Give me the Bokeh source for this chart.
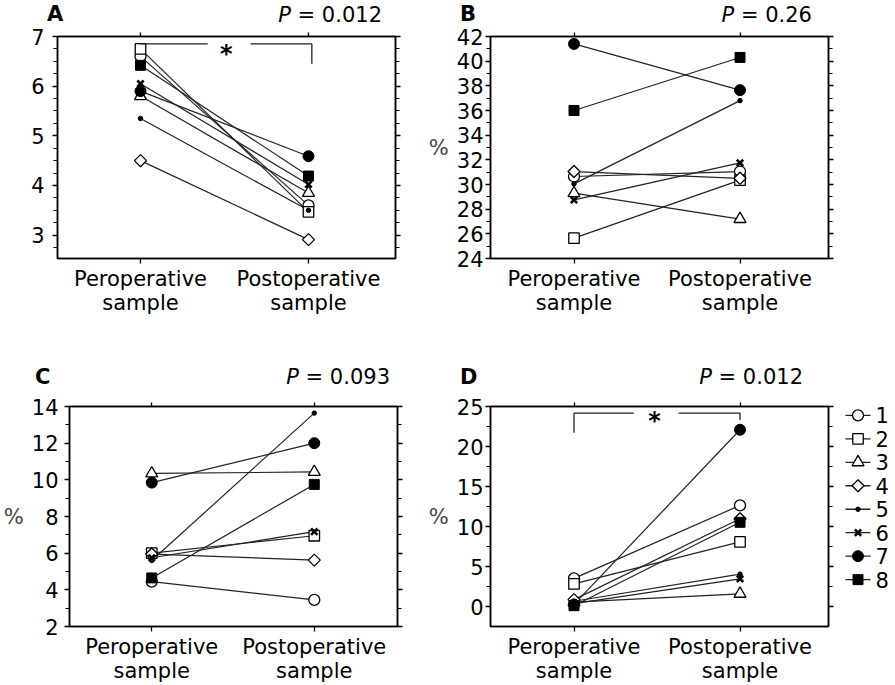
import math
from bokeh.plotting import figure
from bokeh.layouts import column, row
from bokeh.models import (Range1d, FixedTicker, SingleIntervalTicker, LinearAxis,
                          ColumnDataSource, Div)
from bokeh.core.properties import value
from bokeh.embed import file_html
from bokeh.resources import INLINE

# ---------------- data ----------------
categories = ["Peroperative\nsample", "Postoperative\nsample"]
patients = ["1", "2", "3", "4", "5", "6", "7", "8"]

a_pre = [6.60, 6.75, 5.80, 4.50, 5.35, 6.05, 5.90, 6.42]
a_post = [3.60, 3.47, 3.85, 2.91, 3.50, 4.02, 4.59, 4.19]

b_pre = [30.65, 25.65, 29.30, 31.05, 30.05, 28.75, 41.40, 36.00]
b_post = [31.05, 30.35, 27.20, 30.50, 36.80, 31.75, 37.65, 40.30]

c_pre = [4.45, 6.00, 10.35, 5.95, 5.60, 5.75, 9.85, 4.65]
c_post = [3.45, 6.95, 10.43, 5.62, 13.64, 7.17, 12.00, 9.75]

d_pre = [3.55, 2.86, 0.60, 0.90, 0.70, 0.40, 0.30, 0.15]
d_post = [12.66, 8.10, 1.63, 11.00, 4.08, 3.50, 22.10, 10.55]

p_values = ["0.012", "0.26", "0.093", "0.012"]
panel_letters = ["A", "B", "C", "D"]

FONT = "DejaVu Sans"
FS = "21px"

# marker styles for patients 1..8
styles = [
    dict(marker="circle", size=11, fill_color="white", angle=0.0, line_width=1.3),
    dict(marker="square", size=10.5, fill_color="white", angle=0.0, line_width=1.3),
    dict(marker="triangle", size=12, fill_color="white", angle=0.0, line_width=1.3),
    dict(marker="square", size=8.5, fill_color="white", angle=math.pi / 4, line_width=1.3),
    dict(marker="circle", size=4.5, fill_color="black", angle=0.0, line_width=1.0),
    dict(marker="x", size=9, fill_color="black", angle=0.0, line_width=2.6),
    dict(marker="circle", size=11, fill_color="black", angle=0.0, line_width=1.0),
    dict(marker="square", size=10, fill_color="black", angle=0.0, line_width=1.0),
]


def hidden_label_axis(ticker, tick_out, minor_out):
    return LinearAxis(ticker=ticker, major_label_text_font_size="1px",
                      major_label_text_color=None, major_tick_out=tick_out,
                      major_tick_in=0, minor_tick_out=minor_out, minor_tick_in=0,
                      axis_line_width=1.5, major_tick_line_width=1.3,
                      minor_tick_line_width=1.1, major_label_standoff=0)


def make_panel(width, height, xr, yr, borders, ticker_args, ylabel, lab_standoff,
               pre, post):
    left, right, top, bottom = borders
    p = figure(width=width, height=height, x_range=Range1d(*xr), y_range=Range1d(*yr),
               output_backend="svg", toolbar_location=None,
               min_border_left=left, min_border_right=right,
               min_border_top=top, min_border_bottom=bottom)
    p.xgrid.visible = False
    p.ygrid.visible = False
    p.outline_line_color = "black"
    p.outline_line_width = 1.5
    p.background_fill_color = "white"
    p.border_fill_color = "white"

    labels = {i + 1: c for i, c in enumerate(categories)}

    xa = p.xaxis[0]
    xa.ticker = FixedTicker(ticks=[1, 2], minor_ticks=[])
    xa.major_label_overrides = labels
    xa.major_label_text_font = FONT
    xa.major_label_text_font_size = FS
    xa.major_label_text_line_height = 1.0
    xa.major_label_text_color = "black"
    xa.major_label_standoff = 3
    xa.major_tick_out = 5
    xa.major_tick_in = 0
    xa.axis_line_width = 1.5
    xa.major_tick_line_width = 1.3

    p.add_layout(hidden_label_axis(FixedTicker(ticks=[1, 2], minor_ticks=[]), 4, 0), "above")

    ya = p.yaxis[0]
    ya.ticker = SingleIntervalTicker(**ticker_args)
    ya.major_label_text_font = FONT
    ya.major_label_text_font_size = FS
    ya.major_label_text_color = "black"
    ya.major_label_standoff = lab_standoff
    ya.major_tick_out = 5
    ya.major_tick_in = 0
    ya.minor_tick_out = 4
    ya.minor_tick_in = 0
    ya.axis_line_width = 1.5
    ya.major_tick_line_width = 1.3
    ya.minor_tick_line_width = 1.1
    if ylabel:
        ya.axis_label = ylabel
        ya.axis_label_orientation = "horizontal"
        ya.axis_label_text_font = FONT
        ya.axis_label_text_font_size = FS
        ya.axis_label_text_font_style = "normal"
        ya.axis_label_standoff = 5

    p.add_layout(hidden_label_axis(SingleIntervalTicker(**ticker_args), 5, 4), "right")

    for i, pid in enumerate(patients):
        src = ColumnDataSource(dict(x=[1, 2], y=[pre[i], post[i]]))
        p.line("x", "y", source=src, line_color="#222222", line_width=1.2)
    for i, pid in enumerate(patients):
        st = styles[i]
        src = ColumnDataSource(dict(x=[1, 2], y=[pre[i], post[i]]))
        p.scatter("x", "y", source=src, marker=st["marker"], size=st["size"],
                  angle=st["angle"], fill_color=st["fill_color"],
                  line_color="black", line_width=st["line_width"])
    return p


def header(width, height, letter, letter_left, letter_top, pval, p_right, p_top):
    html = (
        f'<div style="position:relative;width:{width}px;height:{height}px;'
        f"font-family:'DejaVu Sans';color:black;\">"
        f'<span style="position:absolute;left:{letter_left}px;top:{letter_top}px;'
        f'font-size:21px;font-weight:bold;line-height:0.9;">{letter}</span>'
        f'<span style="position:absolute;right:{p_right}px;top:{p_top}px;'
        f'font-size:21px;line-height:0.9;white-space:nowrap;"><i>P</i> = {pval}</span>'
        f'</div>'
    )
    return Div(text=html, width=width, height=height, margin=0)


def add_bracket(p, xs_list, ys_list, star_x, star_y):
    p.multi_line(xs=xs_list, ys=ys_list, line_color="#222222", line_width=1.3)
    p.text(x=[star_x], y=[star_y], text=["*"], text_font=value(FONT),
           text_font_size="24px", text_font_style="bold", text_align="center",
           text_baseline="middle", y_offset=5, text_color="black")


# ---------------- panels ----------------
H1, H2 = 24, 42
R1, R2 = 350 - H1, 335 - H2
pA = make_panel(425, R1, (0.506, 2.518), (2.53, 7.0), (57, 30, 36 - H1, 92),
                dict(interval=1, num_minor_ticks=4), None, 8, a_pre, a_post)
pB = make_panel(470, R1, (0.497, 2.533), (24, 42), (63, 67, 36 - H1, 91),
                dict(interval=2, num_minor_ticks=2), "%", 2, b_pre, b_post)
pC = make_panel(425, R2, (0.494, 2.512), (2, 14), (59, 28, 406 - 350 - H2, 56),
                dict(interval=2, num_minor_ticks=2), "%", 6, c_pre, c_post)
pD = make_panel(410, R2, (0.497, 2.533), (-2.45, 25), (63, 7, 404 - 350 - H2, 57),
                dict(interval=5, num_minor_ticks=2), "%", 2, d_pre, d_post)

hA = header(425, H1, panel_letters[0], 47, 5, p_values[0], 43, 6)
hB = header(470, H1, panel_letters[1], 35, 5, p_values[1], 83, 6)
hC = header(425, H2, panel_letters[2], 35, 18, p_values[2], 35, 18)
hD = header(470, H2, panel_letters[3], 35, 18, p_values[3], 92, 18)

add_bracket(pA, [[1, 1.40], [1.655, 2.02, 2.02]], [[6.853, 6.853], [6.853, 6.853, 6.45]],
            1.51, 6.75)
add_bracket(pD, [[1, 1, 1.36], [1.63, 2, 2]], [[21.73, 24.18, 24.18], [24.18, 24.18, 23.3]],
            1.485, 23.86)

# ---------------- legend (own small figure to the right of D) ----------------
# Its frame is aligned with D's frame (row top + 12 .. row top + 236), so the
# y range is set up to read as pixels from the top of the row.
pL = figure(width=60, height=R2, x_range=Range1d(0, 60), y_range=Range1d(236, 12),
            output_backend="svg", toolbar_location=None, x_axis_location=None,
            y_axis_location=None, min_border_left=0, min_border_right=0,
            min_border_top=0, min_border_bottom=0)
pL.xgrid.visible = False
pL.ygrid.visible = False
pL.outline_line_color = None
pL.background_fill_color = "white"
pL.border_fill_color = "white"

row_y = [21 + 23.9 * k for k in range(len(patients))]
pL.segment(x0=[10] * len(patients), y0=row_y, x1=[35] * len(patients), y1=row_y,
           line_color="#222222", line_width=1.3)
for k, pid in enumerate(patients):
    st = styles[k]
    pL.scatter(x=[22.5], y=[row_y[k]], marker=st["marker"], size=st["size"],
               angle=st["angle"], fill_color=st["fill_color"], line_color="black",
               line_width=st["line_width"])
pL.text(x=[40] * len(patients), y=row_y, text=patients, text_font=value(FONT),
        text_font_size=FS, text_align="left", text_baseline="middle",
        text_color="black")

layout = column(row(hA, hB), row(pA, pB), row(hC, hD), row(pC, pD, pL))

open("out.html", "w").write(file_html(layout, INLINE))
